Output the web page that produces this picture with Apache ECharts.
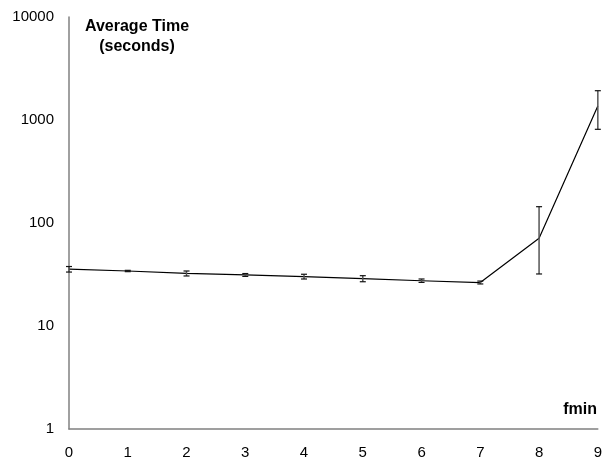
<!DOCTYPE html>
<html>
<head>
<meta charset="utf-8">
<script src="https://cdn.jsdelivr.net/npm/echarts@6/dist/echarts.min.js"></script>
<style>
  html, body { margin: 0; padding: 0; background: #ffffff; }
  #chart { width: 605px; height: 463px; }
</style>
</head>
<body>
<div id="chart"></div>
<script>
// fmin setting on the horizontal axis
const fminValues = [0, 1, 2, 3, 4, 5, 6, 7, 8, 9];
// mean run time in seconds
const avgTime = [35.7, 34.2, 32.5, 31.3, 30.1, 28.8, 27.5, 26.4, 71, 1368];
// lower / upper ends of the error bars
const errLow = [33.4, 33.7, 30.6, 30.3, 28.6, 26.9, 26.5, 25.6, 32, 812];
const errHigh = [37.8, 34.7, 34.2, 32.3, 31.8, 30.8, 28.6, 27.3, 144, 1925];
const yTicks = [1, 10, 100, 1000, 10000];

const lineData = fminValues.map((x, i) => [x, avgTime[i]]);
const errData = fminValues.map((x, i) => [x, errLow[i], errHigh[i]]);

const chart = echarts.init(document.getElementById('chart'), null, { renderer: 'canvas' });

const axisFont = { fontFamily: 'Liberation Sans, Arial, sans-serif', fontSize: 15, color: '#000' };

chart.setOption({
  animation: false,
  backgroundColor: '#ffffff',
  grid: { left: 69, right: 4, top: 17, bottom: 34 },
  xAxis: {
    type: 'value',
    min: 0,
    max: 9,
    interval: 1,
    axisLine: { show: true, onZero: false, lineStyle: { color: '#808080', width: 1.5 } },
    axisTick: { show: false },
    splitLine: { show: false },
    axisLabel: Object.assign({ margin: 16 }, axisFont)
  },
  yAxis: {
    type: 'log',
    logBase: 10,
    min: yTicks[0],
    max: yTicks[yTicks.length - 1],
    axisLine: { show: true, lineStyle: { color: '#808080', width: 1.5 } },
    axisTick: { show: false },
    splitLine: { show: false },
    axisLabel: Object.assign({
      margin: 15,
      formatter: function (v) { return String(Math.round(v)); }
    }, axisFont)
  },
  graphic: [
    {
      type: 'text',
      x: 137,
      y: 17,
      style: {
        text: 'Average Time\n(seconds)',
        fontFamily: 'Liberation Sans, Arial, sans-serif',
        fontWeight: 'bold',
        fontSize: 16,
        lineHeight: 20,
        align: 'center',
        verticalAlign: 'top',
        fill: '#000'
      }
    },
    {
      type: 'text',
      x: 597,
      y: 410,
      style: {
        text: 'fmin',
        fontFamily: 'Liberation Sans, Arial, sans-serif',
        fontWeight: 'bold',
        fontSize: 16,
        align: 'right',
        verticalAlign: 'middle',
        fill: '#000'
      }
    }
  ],
  series: [
    {
      type: 'line',
      data: lineData,
      showSymbol: false,
      lineStyle: { color: '#000', width: 1.2 },
      z: 3
    },
    {
      type: 'custom',
      data: errData,
      z: 4,
      clip: false,
      encode: { x: 0, y: [1, 2] },
      renderItem: function (params, api) {
        const x = api.value(0);
        const lo = api.coord([x, api.value(1)]);
        const hi = api.coord([x, api.value(2)]);
        const cap = 3;
        return {
          type: 'group',
          children: [
            {
              type: 'line',
              shape: { x1: lo[0], y1: lo[1], x2: hi[0], y2: hi[1] },
              style: { stroke: '#555', lineWidth: 1.5 }
            },
            {
              type: 'line',
              shape: { x1: lo[0] - cap, y1: lo[1], x2: lo[0] + cap, y2: lo[1] },
              style: { stroke: '#111', lineWidth: 1.2 }
            },
            {
              type: 'line',
              shape: { x1: hi[0] - cap, y1: hi[1], x2: hi[0] + cap, y2: hi[1] },
              style: { stroke: '#111', lineWidth: 1.2 }
            }
          ]
        };
      }
    }
  ]
});
</script>
</body>
</html>
